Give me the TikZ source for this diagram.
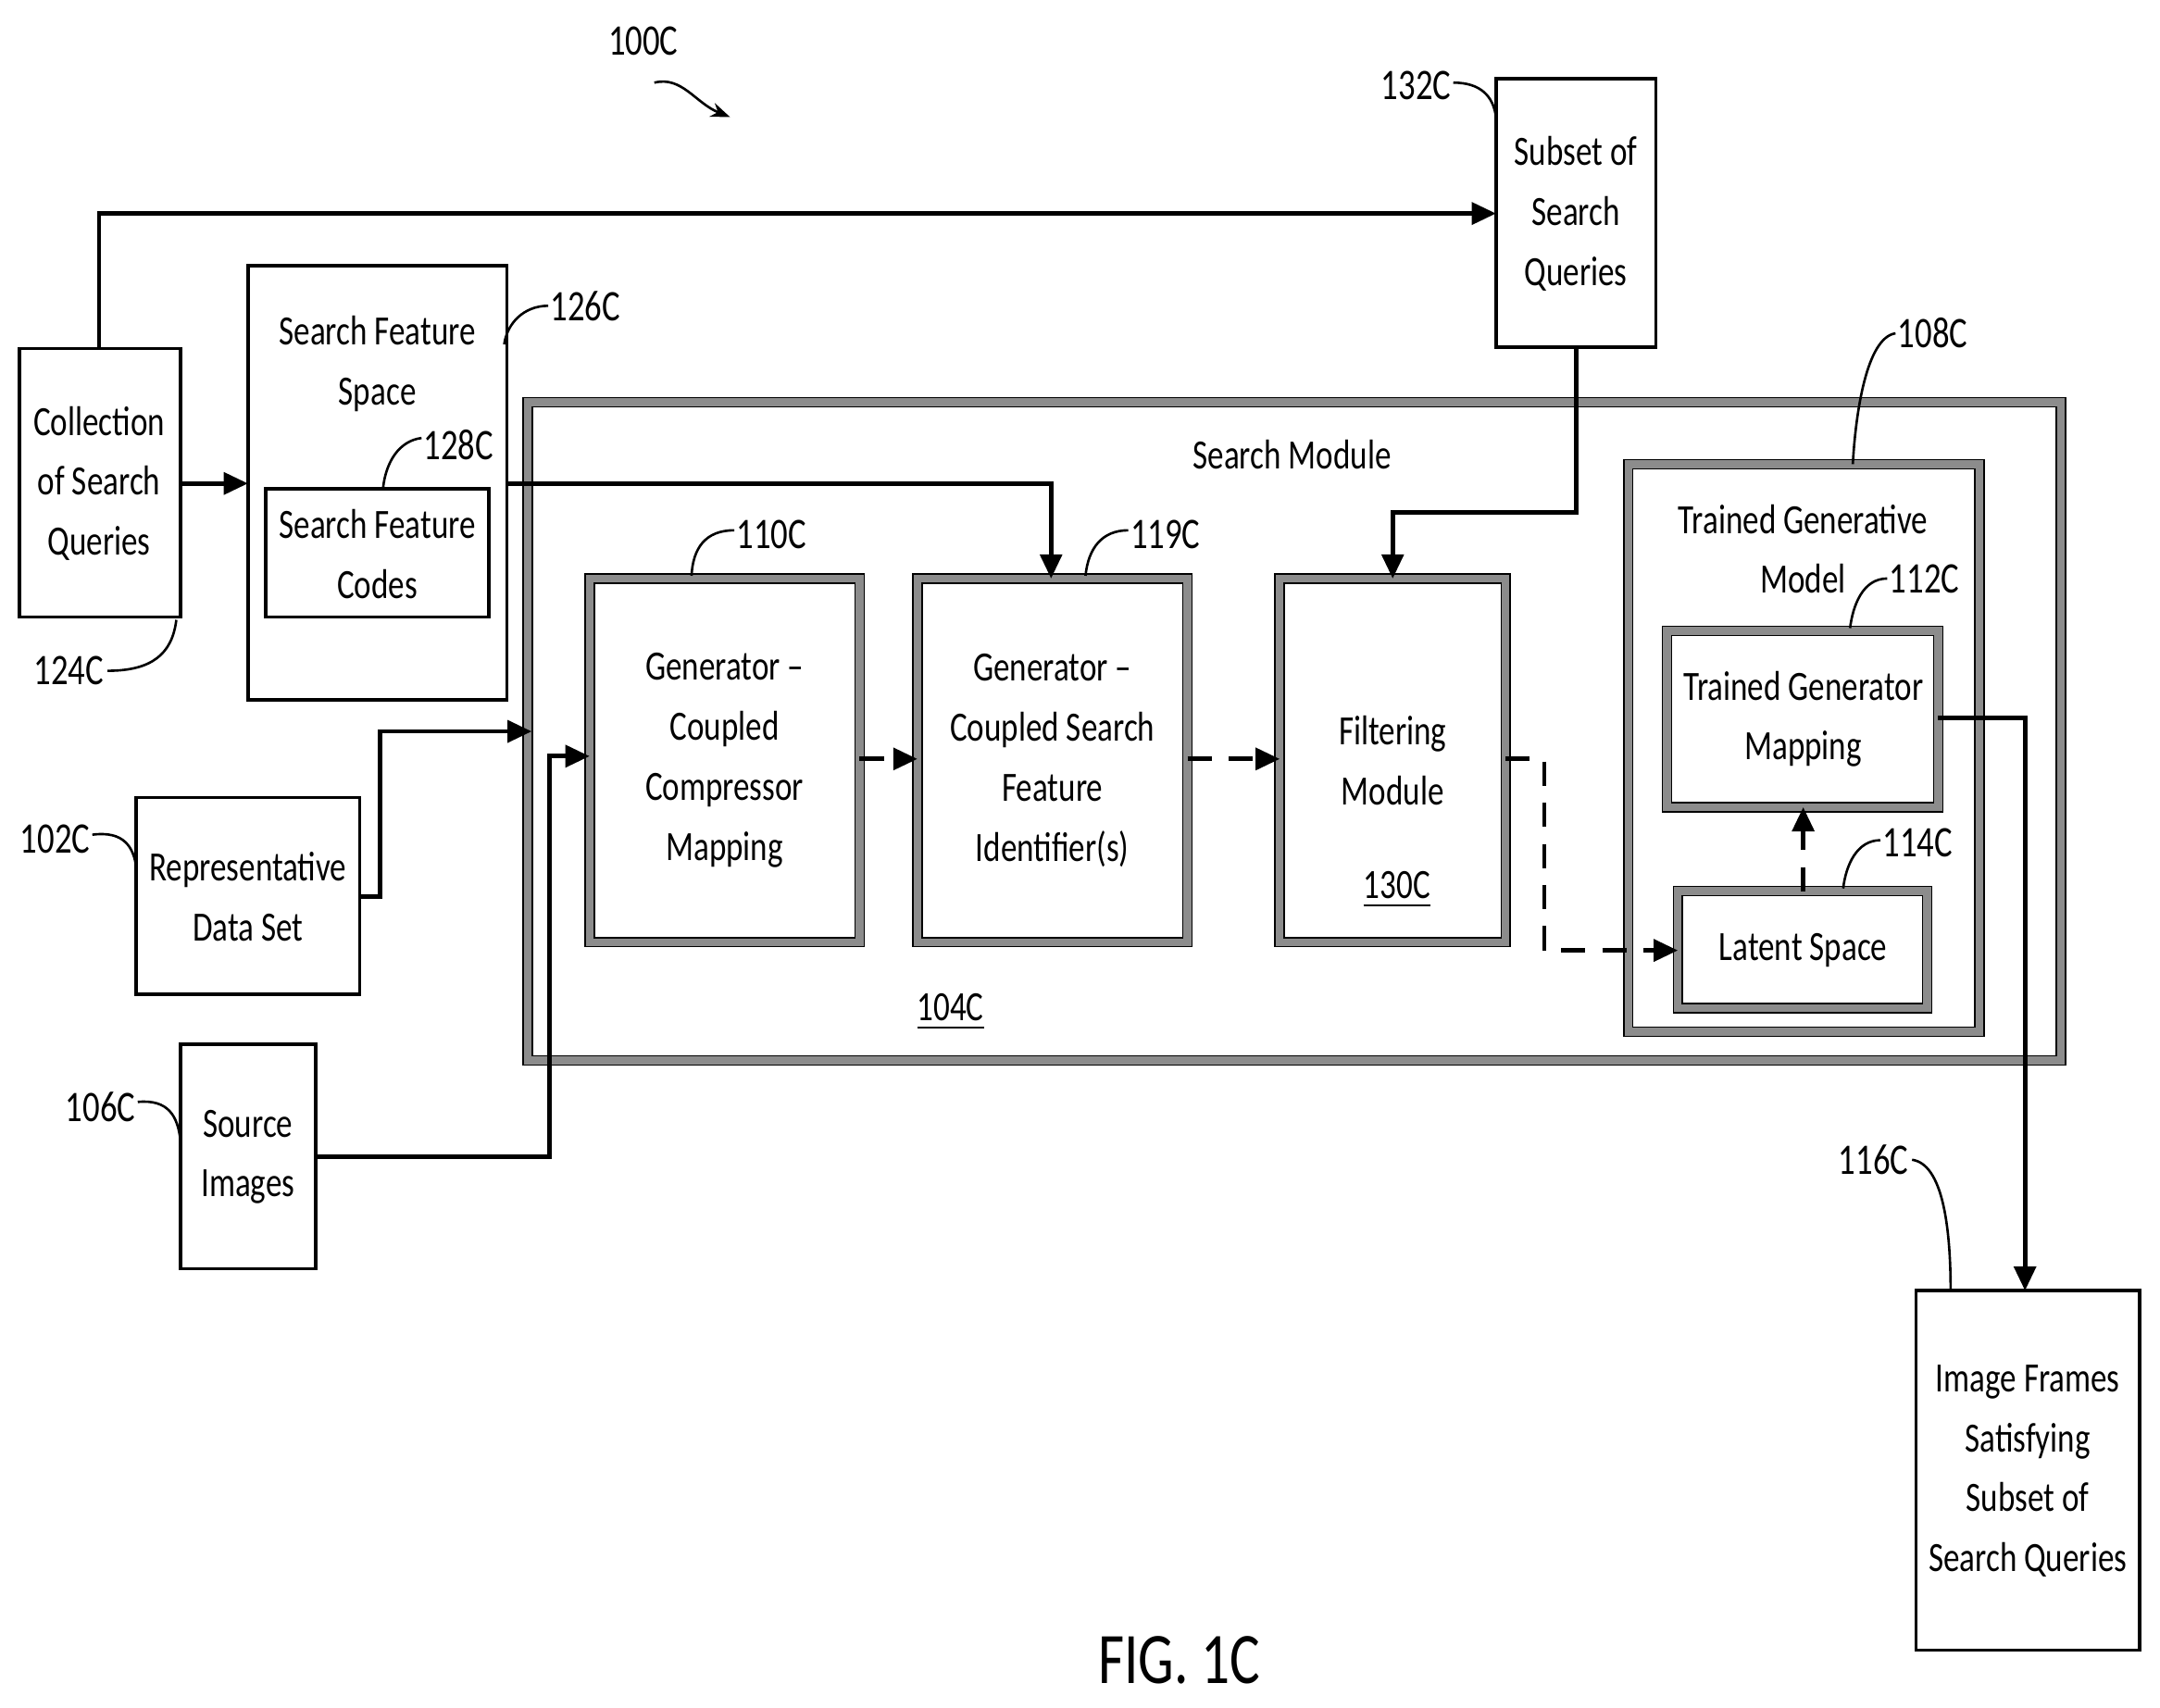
\documentclass[tikz,border=0pt]{standalone}
\usepackage{fontspec}
\setmainfont{Carlito}[FakeStretch=0.78]
\usetikzlibrary{arrows.meta}
\begin{document}
\begin{tikzpicture}[x=0.1mm,y=-0.1mm,
 box/.style={draw,line width=0.7pt},
 hb/.style={draw=black,line width=0.3pt,double=black!45,double distance=1.6pt},
 t/.style={font=\fontsize{8.6}{12.4}\selectfont,align=center},
 lab/.style={font=\fontsize{9}{11}\selectfont},
 ar/.style={line width=0.9pt,-{Triangle[length=5pt,width=4.5pt]}},
 da/.style={ar,dash pattern=on 5pt off 3.5pt},
 ld/.style={line width=0.5pt}]
\useasboundingbox (0,0) rectangle (1568,1240);
\draw[box] (14,253) rectangle (131,448);
\node[t] (col) at (72,351) {Collection\\of Search\\Queries};
\draw[box] (180,193) rectangle (368,508);
\node[t] (sfs) at (274,264) {Search Feature\\Space};
\draw[box] (193,355) rectangle (355,448);
\node[t] (sfc) at (274,402) {Search Feature\\Codes};
\draw[box] (1086,57) rectangle (1202,252);
\node[t] (sub) at (1144,155) {Subset of\\Search\\Queries};
\draw[box] (99,579) rectangle (261,722);
\node[t] (rep) at (180,651) {Representative\\Data Set};
\draw[box] (131,758) rectangle (229,921);
\node[t] (src) at (180,840) {Source\\Images};
\draw[hb] (383,292) rectangle (1496,770);
\node[t] (sm) at (938,330) {Search Module};
\node[t] (n104) at (690,735) {\underline{104C}};
\draw[hb] (428,420) rectangle (624,684);
\node[t] (gcm) at (526,552) {Generator --\\Coupled\\Compressor\\Mapping};
\draw[hb] (666,420) rectangle (862,684);
\node[t] (gcs) at (764,552) {Generator --\\Coupled Search\\Feature\\Identifier(s)};
\draw[hb] (929,420) rectangle (1093,684);
\node[t] (flt) at (1011,552) {Filtering\\Module};
\node[t] (n130) at (1014,646) {\underline{130C}};
\draw[hb] (1182,337) rectangle (1437,749);
\node[t] (tgm) at (1309,377) {Trained Generative};
\node[t] at (1309,420) {Model};
\draw[hb] (1210,458) rectangle (1407,586);
\node[t] (tgmap) at (1309,522) {Trained Generator\\Mapping};
\draw[hb] (1218,647) rectangle (1399,732);
\node[t] (lat) at (1309,690) {Latent Space};
\draw[box] (1391,937) rectangle (1553,1198);
\node[t] (img) at (1472,1068) {Image Frames\\Satisfying\\Subset of\\Search Queries};
\node[font=\fontsize{15}{17}\selectfont] (fig) at (856,1205) {FIG. 1C};
% labels
\node[lab] (l100) at (467,30) {100C};
\draw[ld,-{Stealth[length=4pt]}] (475,60) .. controls (495,55) and (505,75) .. (530,85);
\node[lab] (l124) at (50,487) {124C};
\draw[ld] (78,487) .. controls (110,487) and (125,475) .. (128,450);
\node[lab] (l126) at (425,222) {126C};
\draw[ld] (398,222) .. controls (380,222) and (368,235) .. (366,250);
\node[lab] (l128) at (333,323) {128C};
\draw[ld] (306,318) .. controls (290,320) and (280,335) .. (278,355);
\node[lab] (l132) at (1028,62) {132C};
\draw[ld] (1055,60) .. controls (1075,60) and (1084,70) .. (1086,85);
\node[lab] (l102) at (40,609) {102C};
\draw[ld] (67,606) .. controls (90,603) and (97,615) .. (99,630);
\node[lab] (l106) at (73,804) {106C};
\draw[ld] (100,800) .. controls (122,798) and (129,810) .. (131,828);
\node[lab] (l110) at (560,388) {110C};
\draw[ld] (533,385) .. controls (512,385) and (503,398) .. (502,418);
\node[lab] (l119) at (846,388) {119C};
\draw[ld] (819,385) .. controls (800,385) and (790,398) .. (788,418);
\node[lab] (l108) at (1403,242) {108C};
\draw[ld] (1376,242) .. controls (1355,245) and (1347,300) .. (1345,337);
\node[lab] (l112) at (1397,420) {112C};
\draw[ld] (1370,420) .. controls (1352,420) and (1345,440) .. (1343,456);
\node[lab] (l114) at (1392,612) {114C};
\draw[ld] (1365,610) .. controls (1348,610) and (1340,628) .. (1338,645);
\node[lab] (l116) at (1360,842) {116C};
\draw[ld] (1388,842) .. controls (1410,845) and (1416,890) .. (1416,937);
% arrows
\draw[ar] (72,253) -- (72,155) -- (1086,155);
\draw[ar] (131,351) -- (180,351);
\draw[ar] (368,351) -- (763,351) -- (763,420);
\draw[ar] (1144,252) -- (1144,372) -- (1011,372) -- (1011,420);
\draw[ar] (261,651) -- (276,651) -- (276,531) -- (386,531);
\draw[ar] (229,840) -- (399,840) -- (399,549) -- (428,549);
\draw[da] (624,551) -- (666,551);
\draw[da] (862,551) -- (929,551);
\draw[da] (1093,551) -- (1121,551) -- (1121,690) -- (1218,690);
\draw[da] (1309,647) -- (1309,586);
\draw[ar] (1407,521) -- (1470,521) -- (1470,937);
\end{tikzpicture}
\end{document}
